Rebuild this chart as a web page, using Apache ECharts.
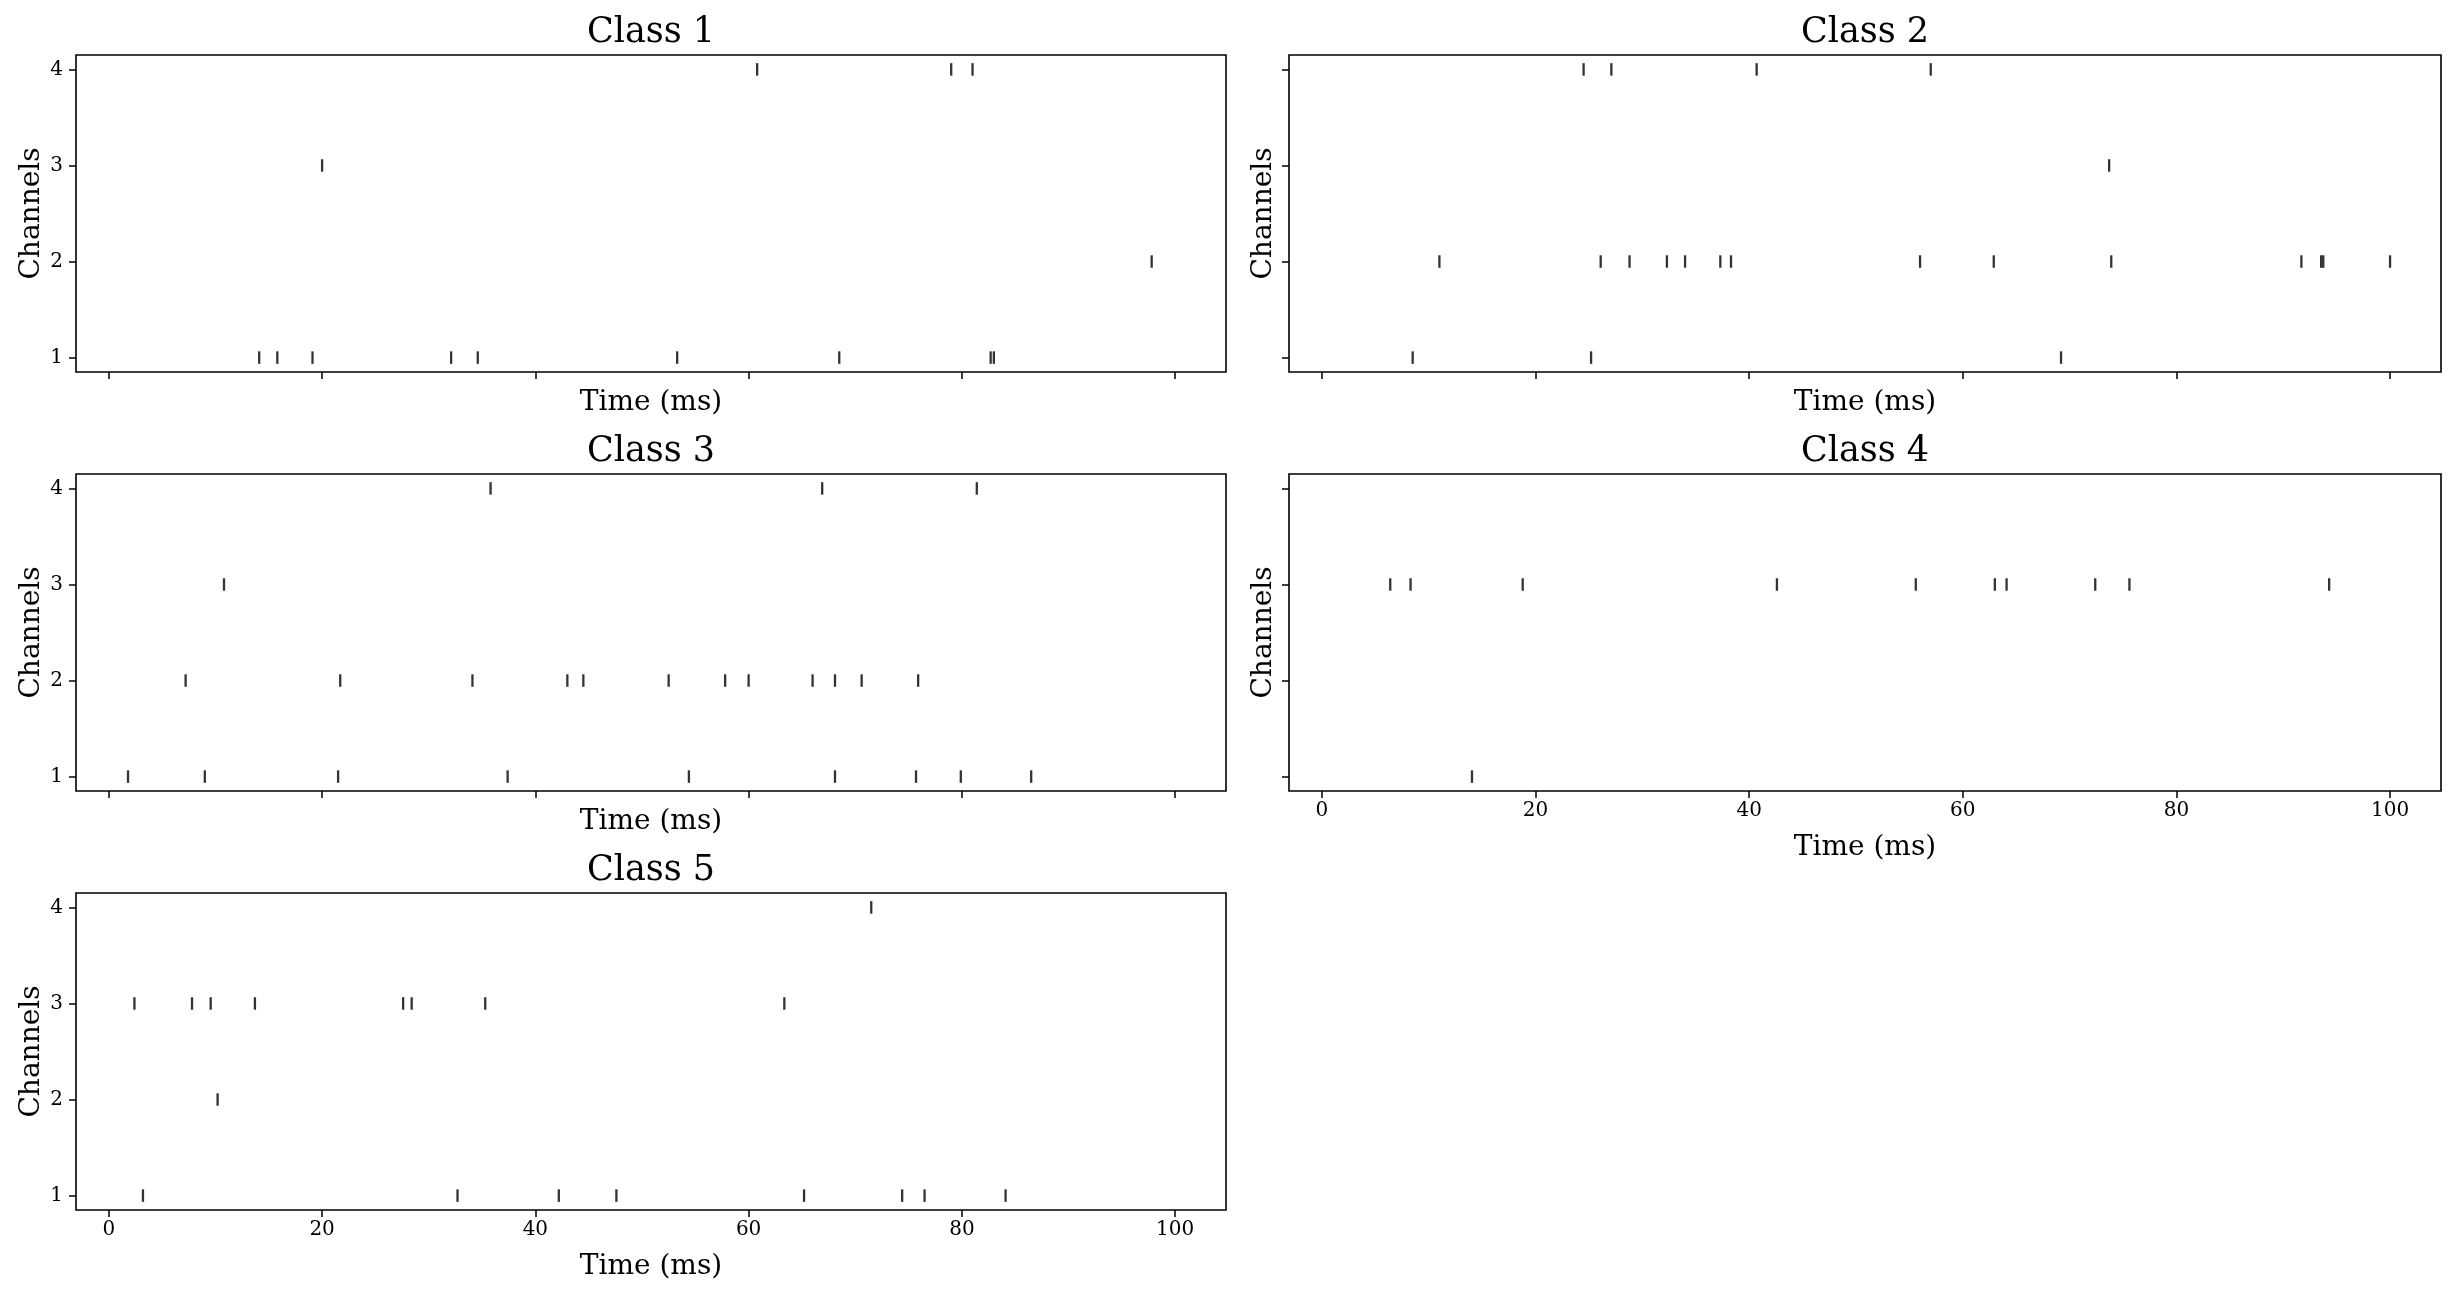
<!DOCTYPE html>
<html>
<head>
<meta charset="utf-8">
<script src="https://cdn.jsdelivr.net/npm/echarts@6/dist/echarts.min.js"></script>
<style>
html,body{margin:0;padding:0;background:#fff;}
#main{width:2457px;height:1293px;}
</style>
</head>
<body>
<div id="main"></div>
<script>
// tick labels
var timeTicks=[0,20,40,60,80,100];
var channelTicks=[1,2,3,4];
var classNames=["Class 1","Class 2","Class 3","Class 4","Class 5"];

// spike times (ms), one list per channel: 1,2,3,4
var class1Spikes=[
    [14.1,15.8,19.1,32.1,34.6,53.3,68.5,82.7,83.0],
    [97.8],
    [20.0],
    [60.8,79.0,81.0]
];
var class2Spikes=[
    [8.5,25.2,69.2],
    [11.0,26.1,28.8,32.3,34.0,37.3,38.3,56.0,62.9,73.9,91.7,93.55,93.75,100.0],
    [73.7],
    [24.5,27.1,40.7,57.0]
];
var class3Spikes=[
    [1.8,9.0,21.5,37.4,54.4,68.1,75.7,79.9,86.5],
    [7.2,21.7,34.1,43.0,44.5,52.5,57.8,60.0,66.0,68.1,70.6,75.9],
    [10.8],
    [35.8,66.9,81.4]
];
var class4Spikes=[
    [14.05],
    [],
    [6.4,8.3,18.8,42.6,55.6,63.0,64.1,72.4,75.6,94.3],
    []
];
var class5Spikes=[
    [3.2,32.7,42.2,47.6,65.2,74.4,76.5,84.1],
    [10.2],
    [2.4,7.8,9.55,13.7,27.6,28.4,35.3,63.35],
    [71.5]
];
var allSpikes=[class1Spikes,class2Spikes,class3Spikes,class4Spikes,class5Spikes];

var font="DejaVu Serif";
// 面板位置
var grids=[
    {left:76,top:55,width:1150,height:317},
    {left:1289,top:55,width:1152,height:317},
    {left:76,top:474,width:1150,height:317},
    {left:1289,top:474,width:1152,height:317},
    {left:76,top:893,width:1150,height:317}
];
var showX=[false,false,false,true,true];
var leftCol=[true,false,true,false,true];

var xAxes=[],yAxes=[],series=[],titles=[];
grids.forEach(function(g,i){
    g.show=true;
    g.borderColor="#000";
    g.borderWidth=1.6;
    g.backgroundColor="#fff";
    xAxes.push({
        type:"value",gridIndex:i,min:-3.08,max:104.77,
        name:"Time (ms)",nameLocation:"middle",nameGap:showX[i]?43:17,
        nameTextStyle:{fontFamily:font,fontSize:28,color:"#000"},
        axisLine:{show:false,onZero:false},splitLine:{show:false},
        axisTick:{show:true,length:7,customValues:timeTicks,lineStyle:{color:"#000",width:1.5}},
        axisLabel:{show:showX[i],customValues:timeTicks,margin:10,fontFamily:font,fontSize:20,color:"#000"}
    });
    yAxes.push({
        type:"value",gridIndex:i,min:0.85,max:4.15,
        name:"Channels",nameLocation:"middle",nameGap:leftCol[i]?30:11,
        nameTextStyle:{fontFamily:font,fontSize:28,color:"#000"},
        axisLine:{show:false,onZero:false},splitLine:{show:false},
        axisTick:{show:true,length:7,customValues:channelTicks,lineStyle:{color:"#000",width:1.5}},
        axisLabel:{show:leftCol[i],customValues:channelTicks,margin:13,fontFamily:font,fontSize:20,color:"#000"}
    });
    var pts=[];
    allSpikes[i].forEach(function(times,c){
        times.forEach(function(t){
            pts.push([t,channelTicks[c]]);
        });
    });
    series.push({
        type:"scatter",xAxisIndex:i,yAxisIndex:i,
        symbol:"rect",symbolSize:[2.3,12.5],
        itemStyle:{color:"#000"},
        data:pts,silent:true
    });
    titles.push({
        type:"text",x:g.left+g.width/2,y:g.top-22,
        style:{text:classNames[i],font:"35px '"+font+"'",fill:"#000",align:"center",verticalAlign:"middle"}
    });
});

var myChart=echarts.init(document.getElementById("main"));
myChart.setOption({
    backgroundColor:"#fff",
    animation:false,
    grid:grids,
    xAxis:xAxes,
    yAxis:yAxes,
    series:series,
    graphic:titles
});
</script>
</body>
</html>
